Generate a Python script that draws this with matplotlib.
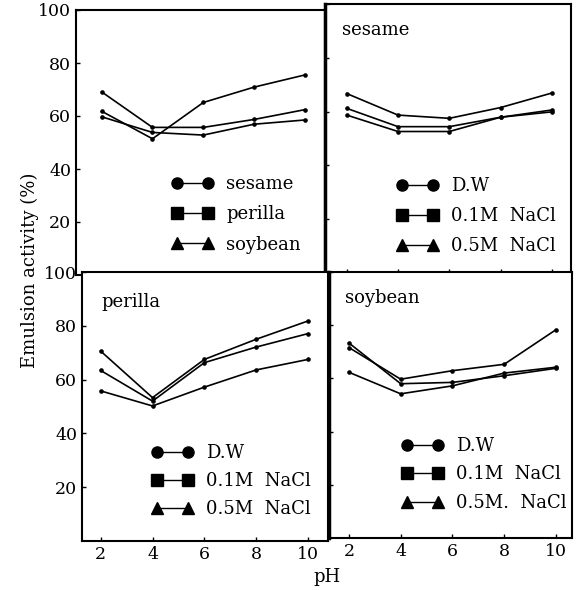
import matplotlib
matplotlib.use('Agg')
import matplotlib.pyplot as plt
from matplotlib.lines import Line2D

plt.rcParams['font.family'] = ['DejaVu Serif']

ph = [2, 4, 6, 8, 10]

# 上左: 三种原料 (D.W)
cmp_sesame = [59.7, 53.8, 52.8, 56.9, 58.5]
cmp_perilla = [61.8, 51.4, 65.1, 70.9, 75.5]
cmp_soybean = [69.1, 55.7, 55.7, 58.7, 62.4]

# sesame
ses_dw = [66.7, 58.7, 57.5, 61.5, 66.9]
ses_01 = [61.2, 54.4, 54.4, 57.9, 59.9]
ses_05 = [58.7, 52.6, 52.6, 57.9, 60.6]

# perilla
per_dw = [70.6, 53.3, 67.5, 75.0, 81.8]
per_01 = [63.4, 52.0, 66.3, 72.1, 77.1]
per_05 = [55.8, 50.2, 57.2, 63.6, 67.5]

# soybean
soy_dw = [71.6, 59.7, 62.9, 65.3, 78.3]
soy_01 = [73.3, 58.0, 58.5, 61.0, 63.8]
soy_05 = [62.3, 54.2, 57.2, 62.0, 64.2]

labels_cmp = ['sesame', 'perilla', 'soybean']
labels_salt = ['D.W', '0.1M  NaCl', '0.5M  NaCl']
labels_salt_soy = ['D.W', '0.1M  NaCl', '0.5M.  NaCl']
yticks = [20, 40, 60, 80, 100]

W, H = 580, 590
fig = plt.figure(figsize=(5.8, 5.9), dpi=100)


def add_ax(l, t, r, b):
    return fig.add_axes([l / W, 1 - b / H, (r - l) / W, (b - t) / H])


def draw(ax, series, xlim, xlabels, ylabels):
    for y in series:
        ax.plot(ph, y, color='black', lw=1.2, marker='o', ms=2.3)
    ax.set_xlim(*xlim)
    ax.set_ylim(0, 100)
    ax.set_xticks(ph)
    ax.set_yticks(yticks)
    ax.tick_params(direction='in', length=3, width=1, labelsize=12.5)
    if not xlabels:
        ax.set_xticklabels([])
    if not ylabels:
        ax.set_yticklabels([])
    for s in ax.spines.values():
        s.set_linewidth(1.5)


def legend(ax, labels, x, y, spacing=0.62):
    markers = ['o', 's', '^']
    handles = [Line2D([0], [0], color='black', lw=1, marker=m, ms=8)
               for m in markers]
    ax.legend(handles, labels, numpoints=2, frameon=False, fontsize=13,
              handlelength=2.3, handletextpad=0.7, labelspacing=spacing,
              borderpad=0, borderaxespad=0, loc='upper left',
              bbox_to_anchor=(x / W, 1 - y / H),
              bbox_transform=fig.transFigure)


ax1 = add_ax(76, 10, 325, 275)
draw(ax1, [cmp_sesame, cmp_perilla, cmp_soybean], (0.99, 10.79), False, True)
legend(ax1, labels_cmp, 172, 175, 0.68)

ax2 = add_ax(325, 4, 571, 273)
draw(ax2, [ses_dw, ses_01, ses_05], (1.15, 10.75), False, False)
ax2.spines['left'].set_linewidth(2.5)
legend(ax2, labels_salt, 397, 177, 0.66)
ax2.text(17 / 246, 1 - 26 / 269, 'sesame', transform=ax2.transAxes,
         fontsize=13, va='center', ha='left')

ax3 = add_ax(82, 272, 328, 541)
draw(ax3, [per_dw, per_01, per_05], (1.28, 10.77), True, True)
legend(ax3, labels_salt, 152, 444, 0.56)
ax3.text(19 / 246, 1 - 30 / 269, 'perilla', transform=ax3.transAxes,
         fontsize=13, va='center', ha='left')

ax4 = add_ax(329, 272, 572, 538)
draw(ax4, [soy_dw, soy_01, soy_05], (1.23, 10.62), True, False)
ax4.spines['left'].set_linewidth(2.5)
legend(ax4, labels_salt_soy, 402, 437, 0.58)
ax4.text(16 / 243, 1 - 26 / 266, 'soybean', transform=ax4.transAxes,
         fontsize=13, va='center', ha='left')

fig.text(30 / W, 1 - 270 / H, 'Emulsion activity (%)', rotation=90,
         ha='center', va='center', fontsize=13)
fig.text(327 / W, 1 - 577 / H, 'pH', ha='center', va='center', fontsize=13)

fig.savefig('out.png', dpi=100)
